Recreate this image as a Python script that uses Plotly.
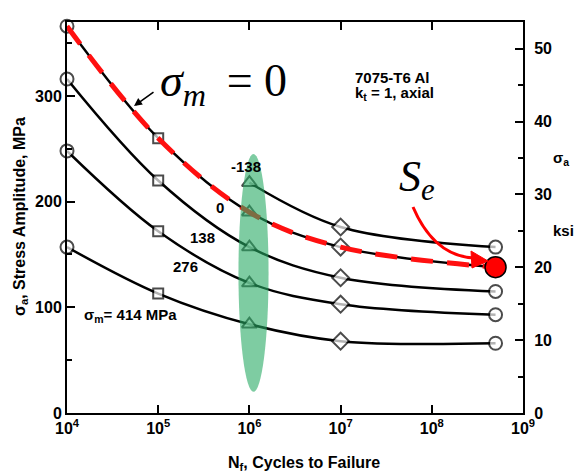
import plotly.graph_objects as go

# ---------------- data ----------------
cycles = [1e4, 1e5, 1e6, 1e7, 5e8]
cycles_neg = [1e6, 1e7, 5e8]
sa_m0 = [366, 260, 190, 157, 138]        # sigma_m = 0 MPa
sa_m138 = [316, 220, 157, 128, 115]      # sigma_m = 138 MPa
sa_m276 = [248, 172, 123, 103, 93]       # sigma_m = 276 MPa
sa_m414 = [157, 113, 84, 68, 66]         # sigma_m = 414 MPa
sa_mneg138 = [218, 176, 157]             # sigma_m = -138 MPa
se_cycles = [5e8]
se_value = [138]                         # endurance limit S_e
symbols = ['circle', 'square', 'triangle-up', 'diamond', 'circle']
symbols_neg = ['triangle-up', 'diamond', 'circle']
sizes = [13, 10, 13, 13, 13]
sizes_neg = [13, 13, 13]
x_tickvals = [1e4, 1e5, 1e6, 1e7, 1e8, 1e9]
x_ticktext = ['10<sup>4</sup>', '10<sup>5</sup>', '10<sup>6</sup>',
              '10<sup>7</sup>', '10<sup>8</sup>', '10<sup>9</sup>']
y_tickvals = [0, 100, 200, 300]
MPA_PER_KSI = 6.89476
Y_MAX = 370

# ---------------- layout geometry ----------------
W, H = 574, 474
L, R, T, B = 67, 51, 22, 61
PW, PH = W - L - R, H - T - B


def px(x):
    return (x - L) / PW


def py(y):
    return (H - B - y) / PH


SANS = "Liberation Sans, Arial, sans-serif"
SERIF = "Liberation Serif, Times New Roman, serif"

fig = go.Figure()


def add_curve(xs, ys, syms, szs):
    fig.add_trace(go.Scatter(
        x=xs, y=ys, mode='lines+markers', line=dict(color='black', width=2.5, shape='spline', smoothing=1.0),
        marker=dict(symbol=syms, size=szs, color='white', line=dict(color='black', width=2)),
        cliponaxis=False, showlegend=False, hoverinfo='skip'))


add_curve(cycles, sa_m414, symbols, sizes)
add_curve(cycles, sa_m276, symbols, sizes)
add_curve(cycles, sa_m138, symbols, sizes)
add_curve(cycles, sa_m0, symbols, sizes)
add_curve(cycles_neg, sa_mneg138, symbols_neg, sizes_neg)

# red dashed sigma_m = 0 overlay
fig.add_trace(go.Scatter(
    x=cycles, y=sa_m0, mode='lines',
    line=dict(color='#ff1010', width=5, dash='22px,14px', shape='spline', smoothing=1.0),
    showlegend=False, hoverinfo='skip', cliponaxis=False))

# endurance limit point
fig.add_trace(go.Scatter(
    x=se_cycles, y=se_value, mode='markers',
    marker=dict(symbol='circle', size=21, color='#ff0000', line=dict(color='black', width=1.5)),
    showlegend=False, hoverinfo='skip', cliponaxis=False))

# invisible trace on the ksi axis
fig.add_trace(go.Scatter(
    x=se_cycles, y=[v / MPA_PER_KSI for v in se_value], yaxis='y2', mode='markers',
    marker=dict(opacity=0), showlegend=False, hoverinfo='skip'))

# green ellipse highlight around 10^6
fig.add_shape(type='circle', xref='x', yref='y', x0=10 ** 5.88, x1=10 ** 6.21, y0=20, y1=245,
              fillcolor='rgb(40,170,100)', opacity=0.6, line=dict(width=0), layer='above')

# red curved arrow to S_e
fig.add_shape(type='path', xref='paper', yref='paper',
              path=f"M {px(413)} {py(207)} Q {px(434)} {py(256)} {px(474)} {py(258)}",
              line=dict(color='#ff0000', width=3), layer='above')
fig.add_shape(type='path', xref='paper', yref='paper',
              path=f"M {px(488)} {py(261)} L {px(471)} {py(251)} L {px(472)} {py(268)} Z",
              fillcolor='#ff0000', line=dict(color='#ff0000', width=1), layer='above')

ann = []


def text(x, y, s, size=15, family=SANS, xanchor='center', yanchor='middle', weight='bold', **kw):
    ann.append(dict(x=px(x), y=py(y), xref='paper', yref='paper', text=s, showarrow=False,
                    xanchor=xanchor, yanchor=yanchor,
                    font=dict(family=family, size=size, color='black', weight=weight), **kw))


# mean stress labels
text(246, 166, '-138')
text(220, 207, '0')
text(202, 237, '138')
text(185, 266, '276')
text(82, 315, 'σ<sub>m</sub>= 414 MPa', xanchor='left')

# material note
text(353, 77, '7075-T6 Al', size=15, xanchor='left')
text(353, 93, 'k<sub>t</sub> = 1, axial', size=15, xanchor='left')

# big math labels
text(158, 84, '<i>σ</i><sub><i>m</i></sub>\u2009 = 0', size=46, family=SERIF, xanchor='left', weight='normal')
text(397, 180, '<i>S</i><sub><i>e</i></sub>', size=44, family=SERIF, xanchor='left', weight='normal')

# right axis labels
text(551, 158, 'σ<sub>a</sub>', xanchor='left')
text(551, 230, 'ksi', xanchor='left')

# axis titles
text(20, 217, 'σ<sub>a</sub>, Stress Amplitude, MPa', size=16, textangle=-90)
text(304, 463, 'N<sub>f</sub>, Cycles to Failure', size=16)

# sigma_m arrow
ann.append(dict(x=px(134), y=py(106), xref='paper', yref='paper', text='', showarrow=True,
                ax=21, ay=-15, arrowhead=2, arrowsize=1, arrowwidth=1.6, arrowcolor='black'))

fig.update_layout(
    width=W, height=H, margin=dict(l=L, r=R, t=T, b=B),
    paper_bgcolor='white', plot_bgcolor='white', showlegend=False,
    annotations=ann,
    xaxis=dict(type='log', range=[4, 9], tickvals=x_tickvals, ticktext=x_ticktext,
               ticks='inside', ticklen=8, tickwidth=1.5, tickcolor='black',
               showline=True, linecolor='black', linewidth=2, mirror='ticks',
               showgrid=False, zeroline=False,
               tickfont=dict(family=SANS, size=16, color='black', weight='bold')),
    yaxis=dict(range=[0, Y_MAX], tickvals=y_tickvals, ticks='inside', ticklen=8, tickwidth=1.5,
               tickcolor='black', showline=True, linecolor='black', linewidth=2,
               showgrid=False, zeroline=False,
               minor=dict(dtick=50, tick0=0, ticks='inside', ticklen=5, tickcolor='black', showgrid=False),
               tickfont=dict(family=SANS, size=16, color='black', weight='bold')),
    yaxis2=dict(range=[0, Y_MAX / MPA_PER_KSI], overlaying='y', side='right', dtick=10, tick0=0,
                ticks='inside', ticklen=8, tickwidth=1.5, tickcolor='black',
                showline=True, linecolor='black', linewidth=2, showgrid=False, zeroline=False,
                ticklabelstandoff=6,
                minor=dict(dtick=5, ticks='inside', ticklen=5, tickcolor='black', showgrid=False),
                tickfont=dict(family=SANS, size=16, color='black', weight='bold')),
)

fig.write_html("out.html", config={'displayModeBar': False},
               post_script="document.body.style.margin='0px';document.body.style.overflow='hidden';")
